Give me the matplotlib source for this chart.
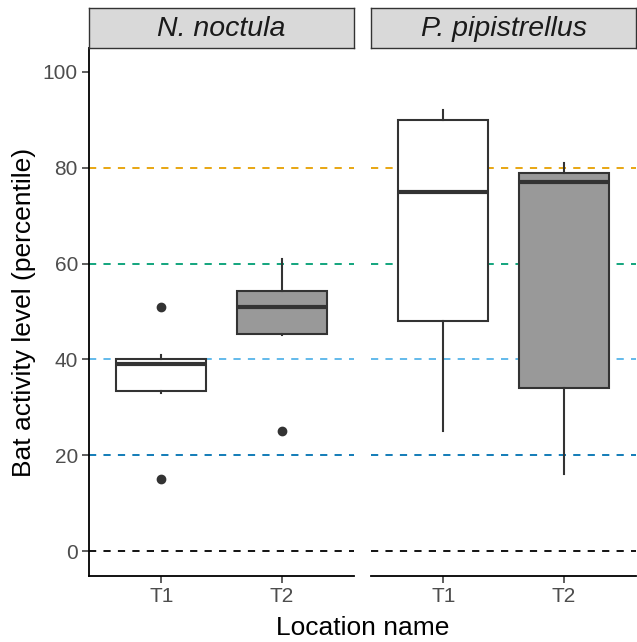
import matplotlib
matplotlib.use("Agg")
import matplotlib.pyplot as plt

plt.rcParams['font.family'] = ['Liberation Sans', 'DejaVu Sans']

species = ["N. noctula", "P. pipistrellus"]
locations = ["T1", "T2"]
# per species, per location: whisker low, Q1, median, Q3, whisker high, outliers
whislo = [[33, 45], [25, 16]]
q1 = [[33.4, 45.4], [48, 34]]
med = [[39, 51], [75, 77]]
q3 = [[40, 54.3], [90, 79]]
whishi = [[41, 61], [92, 81]]
fliers = [[[51, 15], [25]], [[], []]]
fills = ["#FFFFFF", "#999999"]

ref_levels = [0, 20, 40, 60, 80]
ref_colors = ["#000000", "#0072B2", "#56B4E9", "#009E73", "#E69F00"]
yticks = [0, 20, 40, 60, 80, 100]

W, H = 637, 642
fig = plt.figure(figsize=(W / 100, H / 100), dpi=100)

panel_x = [89, 371]
panel_w = 265
y_top, y_bot = 48, 576
strip_top = 8

edge = "#333333"
for i, sp in enumerate(species):
    ax = fig.add_axes([panel_x[i] / W, (H - y_bot) / H, panel_w / W, (y_bot - y_top) / H])
    for lev, col in zip(ref_levels, ref_colors):
        ax.axhline(lev, color=col, lw=1.3, dashes=(4, 4), zorder=1)
    stats = []
    for j, loc in enumerate(locations):
        stats.append(dict(whislo=whislo[i][j], q1=q1[i][j], med=med[i][j], q3=q3[i][j],
                          whishi=whishi[i][j], fliers=fliers[i][j], label=loc))
    bp = ax.bxp(stats, positions=[1, 2], widths=0.75, patch_artist=True, showcaps=False,
                boxprops=dict(edgecolor=edge, linewidth=1.5),
                medianprops=dict(color=edge, linewidth=3.0, solid_capstyle='butt'),
                whiskerprops=dict(color=edge, linewidth=1.5),
                flierprops=dict(marker='o', markerfacecolor=edge, markeredgecolor=edge,
                                markersize=6),
                zorder=3)
    for patch, fc in zip(bp['boxes'], fills):
        patch.set_facecolor(fc)
    ax.set_xlim(0.4, 2.6)
    ax.set_ylim(-5.2, 105)
    ax.set_xticks([1, 2])
    ax.set_xticklabels(locations, fontsize=15, color="#4D4D4D")
    for s in ["top", "right"]:
        ax.spines[s].set_visible(False)
    ax.spines["bottom"].set_linewidth(1.3)
    ax.spines["bottom"].set_color("#000000")
    ax.tick_params(axis='x', length=5, width=1.1, color=edge, pad=3)
    if i == 0:
        ax.set_yticks(yticks)
        ax.set_yticklabels([str(t) for t in yticks], fontsize=15, color="#4D4D4D")
        ax.tick_params(axis='y', length=5, width=1.1, color=edge, pad=3)
        ax.spines["left"].set_linewidth(1.3)
        ax.spines["left"].set_color("#000000")
        ax.set_ylabel("Bat activity level (percentile)", fontsize=19, labelpad=5)
    else:
        ax.spines["left"].set_visible(False)
        ax.set_yticks([])
    # strip
    sax = fig.add_axes([panel_x[i] / W, (H - y_top) / H, panel_w / W, (y_top - strip_top) / H])
    sax.set_facecolor("#D9D9D9")
    sax.set_xticks([])
    sax.set_yticks([])
    for s in sax.spines.values():
        s.set_color(edge)
        s.set_linewidth(1.0)
    sax.text(0.5, 0.47, sp, ha='center', va='center', fontsize=20.5, style='italic',
             color="#1A1A1A", transform=sax.transAxes)

fig.text((89 + 637) / 2 / W, 1 - 628 / H, "Location name", ha='center', va='center',
         fontsize=19)

fig.savefig("out.png", dpi=100, facecolor="white")
